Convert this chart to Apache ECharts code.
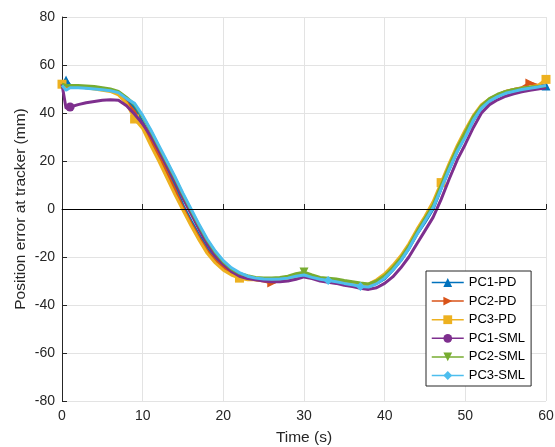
<!DOCTYPE html>
<html>
<head>
<meta charset="utf-8">
<script src="https://cdn.jsdelivr.net/npm/echarts@6/dist/echarts.min.js"></script>
<style>html,body{margin:0;padding:0;background:#fff}#c{width:555px;height:447px}</style>
</head>
<body>
<div id="c"></div>
<script>
var times = [0,0.5,1,2,3,4,5,6,7,8,9,10,11,12,13,14,15,16,17,18,19,20,21,22,23,24,25,26,27,28,29,30,31,32,33,34,35,36,37,38,39,40,41,42,43,44,45,46,47,48,49,50,51,52,53,54,55,56,57,58,59,60];
var seriesNames = ['PC1-PD','PC2-PD','PC3-PD','PC1-SML','PC2-SML','PC3-SML'];
var pc1PD = [52,53.8,51.5,51,50.5,50.3,50,49.5,48.3,45.3,42,36,30,23.5,16.5,9.5,1.5,-5,-11,-16.5,-21,-24,-26,-27.5,-28.5,-29,-29.2,-29.3,-29.2,-28.8,-28,-27.2,-28.3,-29.3,-29.6,-30,-30.6,-31.2,-31.8,-32.2,-31,-29,-25.5,-21.5,-16.5,-10.5,-5.5,0,8.5,16.5,24,30.5,37,42,45,47,48.5,49.3,50,50.5,51,51.3];
var pc2PD = [51.5,51,51,51,51,50.5,50,49.5,48,44.5,40.5,35,28.5,22,15,8,0.5,-6,-12,-17.5,-21.5,-24.5,-26.5,-28,-29,-29.5,-30,-30.8,-29.7,-29,-28,-27,-28,-29,-29.5,-30,-30.5,-31,-31.5,-31.8,-30.5,-28.3,-25,-20.8,-16,-10,-4.8,0.8,9.3,17.3,24.8,31.3,37.7,42.6,45.6,47.5,49,49.8,50.5,52.5,51.5,51.5];
var pc3PD = [52,51.5,51,50.8,50.5,50,49.5,49,47.5,44,37.5,33.5,26.5,20,13,6,-0.5,-7,-13,-18.5,-22.5,-25.5,-27.5,-28.8,-29.5,-29.5,-29.8,-30,-29.8,-29.3,-28.5,-27.5,-28.3,-29.3,-29.8,-30.5,-31,-31.5,-31.5,-31.3,-29.5,-27,-23.5,-19.5,-14.5,-8.5,-3,3,11,19,26.5,33,39,43.5,46,47.5,49,49.8,50.3,50.8,51.5,54];
var pc1SML = [52,42,42.5,43.5,44.3,44.8,45.3,45.5,45.3,43,39.5,35.5,30.5,24.5,18,11.5,4.5,-2,-8.5,-14.5,-19.5,-23,-26,-28,-29,-29.5,-30,-30.3,-30.3,-30,-29.3,-28.3,-29,-30,-30.5,-31,-31.8,-32.3,-33,-33.5,-32.8,-31,-28.3,-24.5,-20,-14.5,-9,-3.5,4,12.5,20.5,27,34,40,43.5,45.5,47,48,48.8,49.5,50,50.5];
var pc2SML = [52,51.5,51.5,51.5,51.3,51,50.5,50,49,46.5,43.5,38.5,32.5,26,19.5,13,6,-0.5,-7,-13,-18,-22,-25,-26.8,-27.8,-28.5,-28.7,-28.7,-28.5,-28,-27,-26.3,-27.5,-28.5,-28.8,-29.2,-29.8,-30.3,-30.8,-31.2,-30,-27.8,-24.5,-20.5,-15.5,-9.5,-4,1.5,10,18,25.5,32,38.5,43,46,47.8,49,49.8,50.3,50.8,51,51.3];
var pc3SML = [51.5,49.5,50.5,50.5,50.3,50,49.7,49.3,48.5,46,44,39,33,26.5,20,13.5,6.5,0,-6.5,-12.5,-17.5,-21.5,-24.5,-26.5,-28,-28.8,-29.2,-29.3,-29.2,-28.8,-28,-27.5,-28.5,-29.3,-29.8,-30.3,-31,-31.6,-32.3,-32.5,-31.2,-28.8,-25.5,-21.5,-16.5,-10.5,-5,0.5,8.5,16.5,24,30,37,42,45,46.8,48.2,49,49.8,50.3,50.8,51.5];
var xTicks = [0,10,20,30,40,50,60];
var yTicks = [-80,-60,-40,-20,0,20,40,60,80];

var values = [pc1PD, pc2PD, pc3PD, pc1SML, pc2SML, pc3SML];
var colors = ['#0072BD','#D95319','#EDB120','#7E2F8E','#77AC30','#4DBEEE'];
var symbols = ['triangle','triangle','rect','circle','triangle','diamond'];
var rotates = [0,-90,0,0,180,0];
var markerIdx = [[1,61],[27,59],[0,10,23,48,61],[2],[31],[34,38]];
var font = 'Liberation Sans, Arial, sans-serif';

var series = seriesNames.map(function(name, s){
  var mk = markerIdx[s];
  var o = {
    name: name,
    type: 'line',
    data: times.map(function(t,i){ return [t, values[s][i]]; }),
    symbol: symbols[s],
    symbolRotate: rotates[s],
    symbolSize: function(v, p){ return mk.indexOf(p.dataIndex) >= 0 ? 9 : 0; },
    showAllSymbol: true,
    lineStyle: {width: 3, color: colors[s]},
    itemStyle: {color: colors[s]},
    color: colors[s],
    z: 3 + s
  };
  if (s === 5) {
    o.markLine = {
      silent: true, symbol: 'none', label: {show: false},
      lineStyle: {color: '#000', width: 1, type: 'solid'},
      data: [{yAxis: 0}], z: 20
    };
  }
  return o;
});

var chart = echarts.init(document.getElementById('c'));
chart.setOption({
  animation: false,
  backgroundColor: '#fff',
  textStyle: {fontFamily: font},
  grid: {left: 62, right: 9, top: 17, bottom: 46, outerBoundsMode: 'none', containLabel: false},
  xAxis: {
    type: 'value', min: 0, max: 60, interval: 10,
    name: 'Time (s)', nameLocation: 'middle', nameGap: 29, nameMoveOverlap: false,
    nameTextStyle: {fontSize: 15.5, color: '#262626', fontFamily: font},
    axisLine: {lineStyle: {color: '#262626', width: 1}},
    axisTick: {inside: true, length: 5, lineStyle: {color: '#262626'}},
    axisLabel: {fontSize: 14, color: '#262626', margin: 8, fontFamily: font,
      formatter: function(v){ return xTicks.indexOf(v) >= 0 ? String(v) : ''; }},
    splitLine: {show: true, lineStyle: {color: '#e3e3e3', width: 1}}
  },
  yAxis: {
    type: 'value', min: -80, max: 80, interval: 20,
    name: 'Position error at tracker (mm)', nameLocation: 'middle', nameGap: 33, nameMoveOverlap: false,
    nameTextStyle: {fontSize: 15.5, color: '#262626', fontFamily: font},
    axisLine: {show: true, lineStyle: {color: '#262626', width: 1}},
    axisTick: {show: true, inside: true, length: 5, lineStyle: {color: '#262626'}},
    axisLabel: {fontSize: 14, color: '#262626', margin: 7, fontFamily: font,
      formatter: function(v){ return yTicks.indexOf(v) >= 0 ? String(v) : ''; }},
    splitLine: {show: true, lineStyle: {color: '#e3e3e3', width: 1}}
  },
  legend: {
    orient: 'vertical', left: 426, top: 271,
    data: seriesNames,
    itemWidth: 32, itemHeight: 11, itemGap: 5.6,
    padding: [5, 6, 4, 5],
    borderColor: '#262626', borderWidth: 1, backgroundColor: '#fff',
    lineStyle: {width: 1.5},
    textStyle: {fontSize: 13, color: '#000', fontFamily: font, lineHeight: 13}
  },
  series: series
});
</script>
</body>
</html>
